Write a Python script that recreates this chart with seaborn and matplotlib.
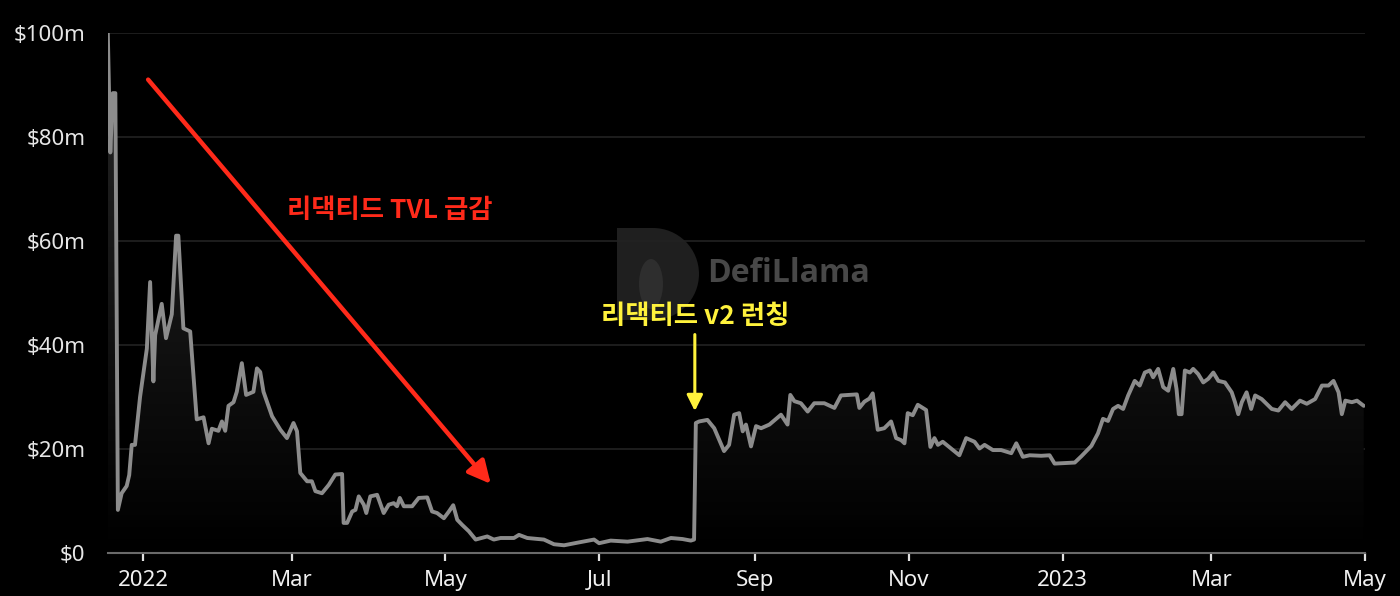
import numpy as np
import pandas as pd
import matplotlib
matplotlib.use("Agg")
import matplotlib.pyplot as plt
import matplotlib.dates as mdates
from matplotlib.patches import Polygon, Wedge, Rectangle, Ellipse
from matplotlib.colors import LinearSegmentedColormap
import seaborn as sns

# ---- data: TVL in $m, x in days since 2022-01-01 ----
days_since_2022 = [
    -14, -13, -12, -11, -10, -8.5, -6.5, -5.5, -4.5, -3.2, -1.2, 1.5, 2.8, 4.1, 4.8, 7.4, 9.1,
    11.4, 13.1, 14.0, 16, 18.7, 21.3, 24, 26, 27.3, 29.9, 31.3, 32.6, 33.9, 35.9, 37.2, 39.2,
    40.9, 43.8, 45.2, 46.5, 47.8, 51.2, 54.5, 57.1, 59.7, 61.1, 62.4, 65.1, 67, 68.4, 71, 73.7,
    76.3, 79, 79.6, 81, 83, 84.3, 85.6, 87.6, 88.6, 90.2, 92.9, 95.5, 97.5, 99.5, 100.8, 101.9,
    103.5, 106.8, 109.4, 112.8, 114.7, 116.7, 119.4, 121.4, 123.1, 124.7, 126.7, 129.3, 132,
    136.6, 139.2, 141.9, 147.2, 149.2, 152.5, 159.1, 163.1, 167.1, 172.4, 179, 181, 185.6,
    192.3, 200.2, 205.5, 209.5, 214.1, 217.4, 218.7, 219.4, 220.7, 224, 226.7, 230.6, 232.6,
    234.6, 236.6, 238, 239.3, 241.3, 243.3, 245.3, 248.6, 253.2, 255.8, 256.9, 258.5, 261.1,
    263.8, 266.4, 270.4, 274.4, 277, 283.3, 284.3, 286.3, 288.3, 289.6, 291.6, 294.2, 296.9,
    298.9, 300.9, 302.2, 303.5, 305.5, 307.5, 310.8, 312.5, 314.1, 315.5, 317.4, 320.7, 324,
    326.7, 330, 332, 334, 337.3, 340.6, 344.6, 346.6, 349.2, 351.9, 356.5, 359.8, 361.8, 365.8,
    369.8, 372.4, 376.4, 379, 381, 383, 385, 387, 389, 391, 393.6, 395.6, 397.6, 399.6, 400.9,
    402.9, 404.9, 406.9, 408.9, 410.2, 411.1, 412.2, 413.5, 415.5, 416.8, 418.8, 420.8, 422.8,
    424.8, 426.8, 429.4, 432.1, 433.4, 434.7, 436.1, 438, 439.8, 441.4, 444, 448, 450.6, 453.3,
    455.9, 459.2, 461.9, 465.2, 467.9, 470.5, 472.5, 474.5, 475.8, 477.2, 479.8, 481.8, 484.5,
]
tvl_musd = [
    100, 77, 88.4, 88.4, 8.3, 11.5, 12.9, 15, 20.8, 20.8, 30, 39.3, 52.1, 33, 41.9, 47.9, 41.3,
    45.9, 61, 61, 43.2, 42.6, 25.7, 26.1, 21.1, 23.9, 23.5, 25.3, 23.5, 28.3, 29, 31, 36.5,
    30.4, 31, 35.5, 34.8, 31, 26.3, 23.7, 22.1, 25, 23.4, 15.4, 13.8, 13.8, 11.9, 11.5, 13.1,
    15.1, 15.2, 5.8, 5.8, 8, 8.3, 10.9, 9.3, 7.7, 10.9, 11.2, 7.7, 9.3, 9.6, 9, 10.6,
    9, 9, 10.6, 10.7, 8, 7.7, 6.7, 8, 9.2, 6.4, 5.4, 4.2, 2.6,
    3.2, 2.6, 2.9, 2.9, 3.5, 2.9, 2.6, 1.7, 1.5, 2.0, 2.6, 1.9, 2.4,
    2.2, 2.7, 2.2, 2.9, 2.7, 2.4, 2.6, 25, 25.3, 25.6, 24, 19.6, 20.8,
    26.6, 26.9, 23.4, 24.7, 20.5, 24.4, 24, 24.7, 26.6, 24.7, 30.4, 29.2, 28.8,
    27.2, 28.8, 28.8, 27.9, 30.3, 30.5, 27.9, 29.1, 29.7, 30.7, 23.7, 24, 25.3,
    22.1, 21.7, 21.1, 26.9, 26.5, 28.5, 27.5, 20.4, 22.1, 20.8, 21.4, 20.1, 18.8,
    22.1, 21.4, 20.1, 20.8, 19.8, 19.8, 19.2, 21.1, 18.5, 18.8, 18.7, 18.8, 17.2, 17.3,
    17.4, 18.6, 20.6, 23, 25.8, 25.4, 27.7, 28.3, 27.7, 30.3, 33.1, 32.2, 34.7, 35.1, 33.8,
    35.4, 31.9, 31.2, 35.4, 31.5, 26.7, 26.7, 35.1, 34.7, 35.4, 34.4, 32.8, 33.5,
    34.7, 33.1, 32.8, 30.9, 29, 26.7, 29, 30.9, 27.7, 30.3, 29.6, 27.7, 27.4, 29,
    27.7, 29.3, 28.7, 29.6, 32.2, 32.2, 33.1, 30.9, 26.7, 29.3, 29, 29.3, 28.3,
]
tick_dates = ["2022-01-01", "2022-03-01", "2022-05-01", "2022-07-01", "2022-09-01",
              "2022-11-01", "2023-01-01", "2023-03-01", "2023-05-01"]
tick_labels = ["2022", "Mar", "May", "Jul", "Sep", "Nov", "2023", "Mar", "May"]
y_ticks = [0, 20, 40, 60, 80, 100]
y_labels = ["$0", "$20m", "$40m", "$60m", "$80m", "$100m"]

base = pd.Timestamp("2022-01-01")
dates = base + pd.to_timedelta(np.array(days_since_2022, dtype=float), unit="D")
df = pd.DataFrame({"date": dates, "tvl": tvl_musd})

sns.set_theme(style="dark")
plt.rcParams["font.family"] = ["Noto Sans", "Noto Sans CJK KR", "DejaVu Sans"]

fig = plt.figure(figsize=(14, 5.96), dpi=100, facecolor="black")
ax = fig.add_axes([0.077, 0.072, 0.898, 0.873])
ax.set_zorder(2)
ax.patch.set_alpha(0)

# watermark (figure pixel coordinates), drawn behind the axes
fig.patches.append(Rectangle((617, 276), 36, 92, transform=None, facecolor="#1f1f1f",
                             edgecolor="none", zorder=0.2))
fig.patches.append(Wedge((653, 322), 46, -90, 90, transform=None, facecolor="#1f1f1f",
                         edgecolor="none", zorder=0.2))
fig.patches.append(Ellipse((651, 312), 24, 50, transform=None, facecolor="#2e2e2e",
                           edgecolor="none", zorder=0.3))
fig.text(707, 596 - 273, "DefiLlama", transform=None, color="#484848", fontsize=23,
         fontweight="bold", ha="left", va="center", family=["Open Sans", "DejaVu Sans"],
         zorder=0.3)

# gradient fill under the line
xnum = mdates.date2num(df["date"])
xmin, xmax = mdates.date2num(pd.Timestamp("2021-12-18")), mdates.date2num(pd.Timestamp("2023-05-01"))
verts = [(xnum[0], 0)] + list(zip(xnum, df["tvl"])) + [(xnum[-1], 0)]
poly = Polygon(verts, closed=True, facecolor="none", edgecolor="none")
ax.add_patch(poly)
grad = np.linspace(1, 0, 256).reshape(-1, 1)
cmap = LinearSegmentedColormap.from_list("g", ["#000000", "#151515", "#262626"])
im = ax.imshow(grad, extent=[xmin, xmax, 0, 100], aspect="auto", cmap=cmap,
               origin="upper", zorder=1)
im.set_clip_path(poly)

sns.lineplot(data=df, x="date", y="tvl", ax=ax, color="#8c8c8c", lw=2.8, zorder=3, sort=False)

ax.set_xlim(xmin, xmax)
ax.set_ylim(0, 100)
ax.set_xlabel("")
ax.set_ylabel("")

# grid
for v in y_ticks[1:]:
    ax.axhline(v, color="#222222", lw=1.2, zorder=0)
for s in ["top", "right", "left"]:
    ax.spines[s].set_visible(False)
ax.spines["bottom"].set_color("#6a6a6a")
ax.spines["bottom"].set_linewidth(1.5)
ax.grid(False)

ax.set_yticks(y_ticks)
ax.set_yticklabels(y_labels)
ax.tick_params(axis="y", length=0, pad=16, labelsize=16, labelcolor="#e6e6e6")
ax.set_xticks(mdates.date2num(pd.to_datetime(tick_dates)))
ax.set_xticklabels(tick_labels)
ax.tick_params(axis="x", length=6, width=1.6, color="#e0e0e0", direction="out",
               pad=6, labelsize=16, labelcolor="#f0f0f0", bottom=True)
for lbl in ax.get_xticklabels():
    if lbl.get_text() in ("2022", "2023"):
        lbl.set_fontweight("bold")

def d(day):
    return mdates.date2num(base + pd.Timedelta(days=day))

# annotations
red = "#ff2a1a"
yellow = "#fff23c"
ax.annotate("", xy=(d(138), 13.3), xytext=(d(2), 91),
            arrowprops=dict(arrowstyle="-|>", color=red, lw=3.2, mutation_scale=34,
                            shrinkA=0, shrinkB=0), zorder=5)
ax.text(d(98), 65.9, "리댁티드 TVL 급감", color=red, fontsize=19, fontweight="bold",
        ha="center", va="center", family=["Noto Sans CJK KR", "DejaVu Sans"], zorder=5)
ax.text(d(219), 45.5, "리댁티드 v2 런칭", color=yellow, fontsize=19, fontweight="bold",
        ha="center", va="center", family=["Noto Sans CJK KR", "DejaVu Sans"], zorder=5)
ax.annotate("", xy=(d(219), 27.3), xytext=(d(219), 42),
            arrowprops=dict(arrowstyle="-|>", color=yellow, lw=2.2, mutation_scale=24,
                            shrinkA=0, shrinkB=0), zorder=5)

fig.savefig("out.png", dpi=100, facecolor="black")
